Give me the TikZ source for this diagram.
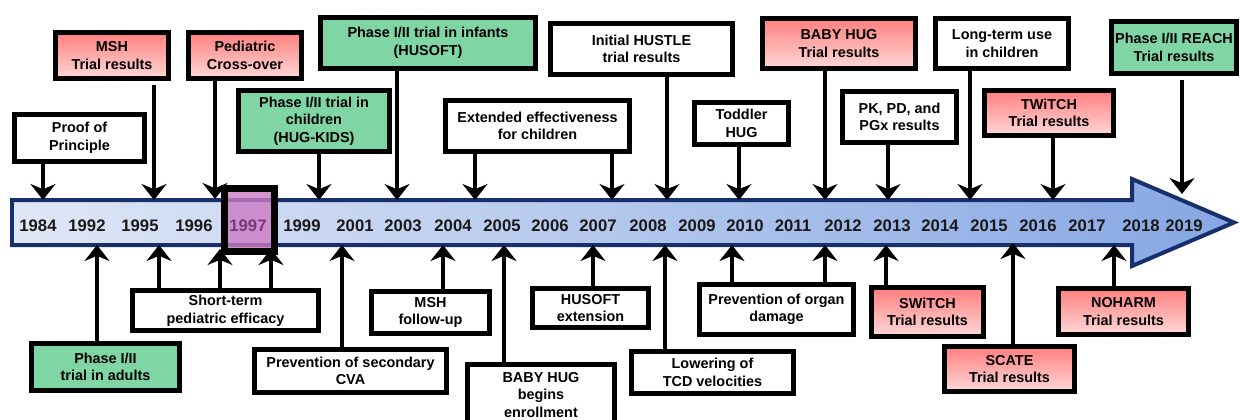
\documentclass[tikz,border=0pt]{standalone}
\usepackage{fontspec}
\setmainfont{Liberation Sans}
\usetikzlibrary{arrows.meta}

\definecolor{navy}{HTML}{17306B}
\definecolor{shaftleft}{HTML}{E0E7F6}
\definecolor{shaftright}{HTML}{86A7E3}
\definecolor{redtop}{HTML}{FF7E7E}
\definecolor{redbot}{HTML}{FFD8D8}
\definecolor{phasegreen}{HTML}{7FD5A3}
\definecolor{hlpink}{HTML}{CC7CC4}
\definecolor{hltext}{HTML}{7B3777}

\tikzset{sz/.style 2 args={minimum width=#1*0.02cm, minimum height=#2*0.02cm}}

\begin{document}
\begin{tikzpicture}[
    x=0.02cm, y=-0.02cm,
    box/.style={draw, line width=0.1cm, align=center, inner sep=1pt,
                font=\fontsize{8.2}{10}\selectfont\bfseries},
    plain/.style={box, fill=white},
    trial/.style={box, top color=redtop, bottom color=redbot},
    phase/.style={box, fill=phasegreen},
    yr/.style={font=\fontsize{9.5}{11}\selectfont\bfseries, text=black!90},
    link/.style={->, line width=0.09cm},
    >={Stealth[length=0.32cm, width=0.5cm]}
  ]
    \useasboundingbox (0,0) rectangle (1240,419);
    \clip (0,0) rectangle (1240,419);

    % timeline
    \shadedraw[left color=shaftleft, right color=shaftright, draw=navy, line width=0.08cm]
      (12,200) -- (1132,200) -- (1132,179) -- (1234,222.5) -- (1132,266) -- (1132,245) -- (12,245) -- cycle;

    % events above the timeline
    \node[plain, sz={130}{47}] (proof) at (79.5,138) {Proof of\\Principle};
    \node[trial, sz={113}{46}] (msh) at (112,55.5) {MSH\\Trial results};
    \node[trial, sz={113}{46}] (cross) at (245,55.5) {Pediatric\\Cross-over};
    \node[phase, sz={151}{61}] (kids) at (314,121) {Phase I/II trial in\\children\\(HUG-KIDS)};
    \node[phase, sz={215}{51}] (husoft) at (428,43) {Phase I/II trial in infants\\(HUSOFT)};
    \node[plain, sz={184}{51}] (extend) at (537.5,126) {Extended effectiveness\\for children};
    \node[plain, sz={182}{51}] (hustle) at (641.5,49) {Initial HUSTLE\\trial results};
    \node[plain, sz={94}{42}] (toddler) at (741.5,123.5) {Toddler\\HUG};
    \node[trial, sz={153}{50}] (babyhug) at (839,43.5) {BABY HUG\\Trial results};
    \node[plain, sz={114}{51}] (pkpd) at (899.5,117) {PK, PD, and\\PGx results};
    \node[plain, sz={133}{50}] (longterm) at (1002,43.5) {Long-term use\\in children};
    \node[trial, sz={129}{45}] (twitch) at (1049,113) {TWiTCH\\Trial results};
    \node[phase, sz={125}{52}] (reach) at (1174,47.5) {Phase I/II REACH\\Trial results};

    % events below the timeline
    \node[phase, sz={148}{47}] (adults) at (105.5,367) {Phase I/II\\trial in adults};
    \node[plain, sz={186}{40}] (shortterm) at (225.5,310.5) {Short-term\\pediatric efficacy};
    \node[plain, sz={192}{43}] (cva) at (350.5,371) {Prevention of secondary\\CVA};
    \node[plain, sz={118}{42}] (mshfu) at (430.5,312.5) {MSH\\follow-up};
    \node[plain, sz={147}{61}] (enroll) at (541,395) {BABY HUG\\begins\\enrollment};
    \node[plain, sz={116}{39}] (husext) at (590.5,308) {HUSOFT\\extension};
    \node[plain, sz={162}{42}] (tcd) at (712.5,372.5) {Lowering of\\TCD velocities};
    \node[plain, sz={154}{50}] (organ) at (776.5,309.5) {Prevention of organ\\damage};
    \node[trial, sz={112}{49}] (switch) at (927.5,312) {SWiTCH\\Trial results};
    \node[trial, sz={130}{45}] (scate) at (1009.5,369) {SCATE\\Trial results};
    \node[trial, sz={130}{46}] (noharm) at (1123.5,311.5) {NOHARM\\Trial results};

    % arrow ends on the timeline
    \coordinate (proof-t) at (43,200);
    \coordinate (msh-t) at (154,200);
    \coordinate (cross-t) at (215,199);
    \coordinate (kids-t) at (319,200);
    \coordinate (husoft-t) at (397,200);
    \coordinate (extend-a) at (475,200);
    \coordinate (extend-b) at (612,200);
    \coordinate (hustle-t) at (667,200);
    \coordinate (toddler-t) at (739,200);
    \coordinate (babyhug-t) at (825,200);
    \coordinate (pkpd-t) at (888,200);
    \coordinate (longterm-t) at (970,200);
    \coordinate (twitch-t) at (1053,200);
    \coordinate (reach-t) at (1182,194);
    \coordinate (adults-t) at (97,245);
    \coordinate (shortterm-a) at (159,245);
    \coordinate (shortterm-b) at (220,249);
    \coordinate (shortterm-c) at (271,249);
    \coordinate (cva-t) at (342,245);
    \coordinate (mshfu-t) at (443,245);
    \coordinate (enroll-t) at (504,245);
    \coordinate (husext-t) at (593,245);
    \coordinate (tcd-t) at (665,245);
    \coordinate (organ-a) at (732,245);
    \coordinate (organ-b) at (825,245);
    \coordinate (switch-t) at (886,245);
    \coordinate (scate-t) at (1013,243);
    \coordinate (noharm-t) at (1114,245);

    \draw[link] (proof.south -| proof-t) -- (proof-t);
    \draw[link, shorten <=2pt] (msh.south -| msh-t) -- (msh-t);
    \draw[link] (cross.south -| cross-t) -- (cross-t);
    \draw[link] (kids.south -| kids-t) -- (kids-t);
    \draw[link] (husoft.south -| husoft-t) -- (husoft-t);
    \draw[link] (extend.south -| extend-a) -- (extend-a);
    \draw[link] (extend.south -| extend-b) -- (extend-b);
    \draw[link] (hustle.south -| hustle-t) -- (hustle-t);
    \draw[link] (toddler.south -| toddler-t) -- (toddler-t);
    \draw[link] (babyhug.south -| babyhug-t) -- (babyhug-t);
    \draw[link] (pkpd.south -| pkpd-t) -- (pkpd-t);
    \draw[link] (longterm.south -| longterm-t) -- (longterm-t);
    \draw[link] (twitch.south -| twitch-t) -- (twitch-t);
    \draw[link, shorten <=2pt] (reach.south -| reach-t) -- (reach-t);
    \draw[link] (adults.north -| adults-t) -- (adults-t);
    \draw[link] (shortterm.north -| shortterm-a) -- (shortterm-a);
    \draw[link] (shortterm.north -| shortterm-b) -- (shortterm-b);
    \draw[link] (shortterm.north -| shortterm-c) -- (shortterm-c);
    \draw[link] (cva.north -| cva-t) -- (cva-t);
    \draw[link] (mshfu.north -| mshfu-t) -- (mshfu-t);
    \draw[link] (enroll.north -| enroll-t) -- (enroll-t);
    \draw[link] (husext.north -| husext-t) -- (husext-t);
    \draw[link] (tcd.north -| tcd-t) -- (tcd-t);
    \draw[link] (organ.north -| organ-a) -- (organ-a);
    \draw[link] (organ.north -| organ-b) -- (organ-b);
    \draw[link] (switch.north -| switch-t) -- (switch-t);
    \draw[link] (scate.north -| scate-t) -- (scate-t);
    \draw[link] (noharm.north -| noharm-t) -- (noharm-t);

    % highlighted year
    \node[draw, line width=0.14cm, fill=hlpink, fill opacity=0.8, sz={50}{63}] (hl) at (249.5,220) {};

    \node[yr] (y1984) at (38,226) {1984};
    \node[yr] (y1992) at (87,226) {1992};
    \node[yr] (y1995) at (140,226) {1995};
    \node[yr] (y1996) at (194,226) {1996};
    \node[yr, text=hltext] (y1997) at (248,226) {1997};
    \node[yr] (y1999) at (302,226) {1999};
    \node[yr] (y2001) at (355,226) {2001};
    \node[yr] (y2003) at (403,226) {2003};
    \node[yr] (y2004) at (453,226) {2004};
    \node[yr] (y2005) at (502,226) {2005};
    \node[yr] (y2006) at (550,226) {2006};
    \node[yr] (y2007) at (598,226) {2007};
    \node[yr] (y2008) at (648,226) {2008};
    \node[yr] (y2009) at (697,226) {2009};
    \node[yr] (y2010) at (745,226) {2010};
    \node[yr] (y2011) at (793,226) {2011};
    \node[yr] (y2012) at (843,226) {2012};
    \node[yr] (y2013) at (892,226) {2013};
    \node[yr] (y2014) at (940,226) {2014};
    \node[yr] (y2015) at (989,226) {2015};
    \node[yr] (y2016) at (1038,226) {2016};
    \node[yr] (y2017) at (1087,226) {2017};
    \node[yr] (y2018) at (1141,226) {2018};
    \node[yr] (y2019) at (1184,226) {2019};
  \end{tikzpicture}
\end{document}
